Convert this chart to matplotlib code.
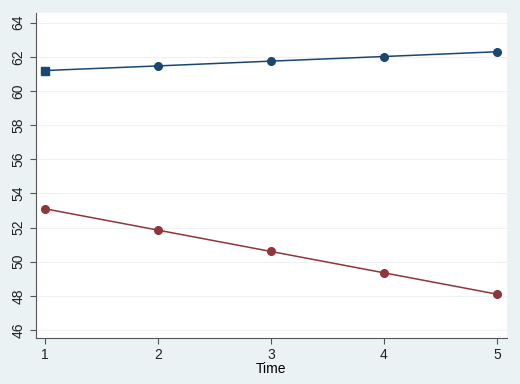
import matplotlib
matplotlib.use("Agg")
import matplotlib.pyplot as plt

time = [1, 2, 3, 4, 5]
upper = [61.2, 61.47, 61.75, 62.02, 62.3]
lower = [53.1, 51.85, 50.6, 49.35, 48.1]
yticks = [46, 48, 50, 52, 54, 56, 58, 60, 62, 64]

plt.rcParams["font.family"] = ["Liberation Sans", "DejaVu Sans"]

bg = "#eaf2f3"
fig = plt.figure(figsize=(5.2, 3.84), dpi=100, facecolor=bg)
ax = fig.add_axes([36 / 520, 1 - 338 / 384, 471 / 520, 325 / 384])
ax.set_facecolor("white")

ax.plot(time, upper, color="#1a476f", lw=1.1, marker="o", ms=5.5, zorder=3)
ax.plot(time[:1], upper[:1], color="#1a476f", ls="none", marker="s", ms=5.5, zorder=4)
ax.plot(time, lower, color="#90353b", lw=1.1, marker="o", ms=5.5, zorder=3)

ax.set_xlim(0.92, 5.09)
ax.set_ylim(45.53, 64.57)
ax.set_xticks(time)
ax.set_yticks(yticks)
ax.set_yticklabels([str(v) for v in yticks], rotation=90, va="center")
ax.grid(axis="y", color="#eef2f3", lw=0.8)
ax.set_axisbelow(True)
for s in ("top", "right"):
    ax.spines[s].set_visible(False)
for s in ("left", "bottom"):
    ax.spines[s].set_color("#555555")
ax.tick_params(colors="#555555", labelcolor="#222222", labelsize=10, length=4)
ax.set_xlabel("Time", fontsize=10, labelpad=0)

fig.savefig("out.png", dpi=100, facecolor=bg)
